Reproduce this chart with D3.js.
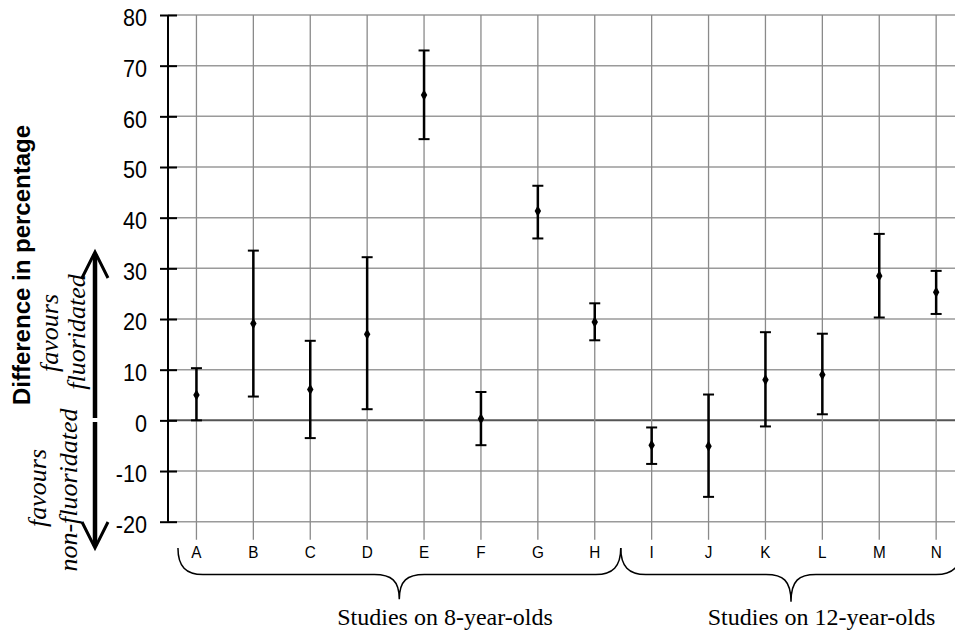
<!DOCTYPE html>
<html><head><meta charset="utf-8">
<script src="https://cdn.jsdelivr.net/npm/d3@7"></script>
<style>body{margin:0;background:#fff}svg{display:block}</style>
</head><body>
<svg id="chart" width="955" height="633"></svg>
<script>
const categories = ["A","B","C","D","E","F","G","H","I","J","K","L","M","N"];
const estimates  = [5.0, 19.1, 6.1, 17.0, 64.2, 0.3, 41.3, 19.4, -4.9, -5.1, 8.0, 9.0, 28.5, 25.3];
const lowerCI    = [0.0, 4.7, -3.5, 2.2, 55.5, -4.9, 35.9, 15.8, -8.6, -15.1, -1.2, 1.2, 20.3, 21.0];
const upperCI    = [10.3, 33.5, 15.7, 32.2, 73.0, 5.6, 46.3, 23.1, -1.4, 5.1, 17.4, 17.1, 36.8, 29.5];
const yTicks     = [-20, -10, 0, 10, 20, 30, 40, 50, 60, 70, 80];
const groups     = [
  {label: "Studies on 8-year-olds", first: "A", last: "H"},
  {label: "Studies on 12-year-olds", first: "I", last: "N"}
];
const yLabel = "Difference in percentage";
const upText = ["favours", "fluoridated"];
const downText = ["favours", "non-fluoridated"];

const svg = d3.select("#chart");
const axisX = 168;
const step = 56.9;
const x = d3.scaleBand().domain(categories).range([axisX, axisX + step * categories.length]).padding(0);
const y = d3.scaleLinear().domain([-20, 80]).range([521.7, 15]);
const cx = c => x(c) + x.bandwidth() / 2;

// horizontal gridlines
svg.append("g").selectAll("line").data(yTicks).join("line")
  .attr("x1", axisX).attr("x2", 955)
  .attr("y1", d => y(d)).attr("y2", d => y(d))
  .attr("stroke", d => d === 0 ? "#555" : "#9a9a9a")
  .attr("stroke-width", d => d === 0 ? 2 : 1.5);

// vertical gridlines
svg.append("g").selectAll("line").data(categories).join("line")
  .attr("x1", cx).attr("x2", cx)
  .attr("y1", y(80)).attr("y2", y(-20) + 18)
  .attr("stroke", "#8a8a8a").attr("stroke-width", 1.3);

// y axis
const sx = 0.9;
const yAxis = d3.axisLeft(y).tickValues(yTicks).tickFormat(d => String(d)).tickSize(0).tickPadding(0);
const ag = svg.append("g").attr("transform", `translate(${axisX},0)`).call(yAxis);
ag.select(".domain").remove();
ag.append("line").attr("y1", y(80)).attr("y2", y(-20)).attr("stroke", "#000").attr("stroke-width", 2);
ag.selectAll(".tick").append("line").attr("x1", -8).attr("x2", 9).attr("stroke", "#000").attr("stroke-width", 2);
ag.selectAll(".tick text")
  .attr("x", -21 / sx).attr("dy", "0.45em")
  .attr("transform", `scale(${sx},1)`)
  .attr("fill", "#000")
  .style("font-family", "'Liberation Sans', Arial, sans-serif")
  .style("font-size", "24px")
  .attr("text-anchor", "end");

// x category labels
svg.append("g").selectAll("text").data(categories).join("text")
  .attr("transform", d => `translate(${cx(d)},558) scale(0.9,1)`)
  .attr("text-anchor", "middle")
  .style("font-family", "'Liberation Sans', Arial, sans-serif")
  .style("font-size", "17px")
  .text(d => d);

// error bars
const data = categories.map((c, i) => ({c, v: estimates[i], lo: lowerCI[i], hi: upperCI[i]}));
const eb = svg.append("g").selectAll("g").data(data).join("g");
eb.append("line").attr("x1", d => cx(d.c)).attr("x2", d => cx(d.c))
  .attr("y1", d => y(d.lo)).attr("y2", d => y(d.hi)).attr("stroke", "#000").attr("stroke-width", 2.5);
eb.append("line").attr("x1", d => cx(d.c) - 5.5).attr("x2", d => cx(d.c) + 5.5)
  .attr("y1", d => y(d.hi)).attr("y2", d => y(d.hi)).attr("stroke", "#000").attr("stroke-width", 2);
eb.append("line").attr("x1", d => cx(d.c) - 5.5).attr("x2", d => cx(d.c) + 5.5)
  .attr("y1", d => y(d.lo)).attr("y2", d => y(d.lo)).attr("stroke", "#000").attr("stroke-width", 2);
eb.append("path")
  .attr("d", d3.symbol(d3.symbolDiamond, 36))
  .attr("transform", d => `translate(${cx(d.c)},${y(d.v)})`)
  .attr("fill", "#000");

// braces
function bracePath(x0, x1, xm, yTop, yMid, yTip) {
  const r = 25;
  return `M${x0},${yTop} C${x0},${yMid - 8} ${x0 + 8},${yMid} ${x0 + r},${yMid}` +
    ` L${xm - r},${yMid} C${xm - 8},${yMid} ${xm},${yMid + 6} ${xm},${yTip}` +
    ` C${xm},${yMid + 6} ${xm + 8},${yMid} ${xm + r},${yMid}` +
    ` L${x1 - r},${yMid} C${x1 - 8},${yMid} ${x1},${yMid - 8} ${x1},${yTop}`;
}
const braceDefs = [
  {x0: cx("A") - 18.5, x1: cx("H") + 26, xm: 399.3, tip: 599.3, label: groups[0].label, tx: 445},
  {x0: cx("H") + 26, x1: 961, xm: 791, tip: 601.7, label: groups[1].label, tx: 821.5}
];
svg.append("g").selectAll("path").data(braceDefs).join("path")
  .attr("d", d => bracePath(d.x0, d.x1, d.xm, 548, 574.5, d.tip))
  .attr("fill", "none").attr("stroke", "#000").attr("stroke-width", 1.5);
svg.append("g").selectAll("text").data(braceDefs).join("text")
  .attr("x", d => d.tx).attr("y", 625)
  .attr("text-anchor", "middle")
  .style("font-family", "'Liberation Serif', 'Times New Roman', serif")
  .style("font-size", "24px")
  .text(d => d.label);

// y label
svg.append("text")
  .attr("transform", "translate(30,265) rotate(-90)")
  .attr("text-anchor", "middle")
  .style("font-family", "'Liberation Sans', Arial, sans-serif")
  .style("font-weight", "bold")
  .style("font-size", "24px")
  .text(yLabel);

// arrows
const ar = svg.append("g").attr("stroke", "#000").attr("fill", "none");
ar.append("line").attr("x1", 95).attr("x2", 95).attr("y1", 418).attr("y2", 254).attr("stroke-width", 4.5);
ar.append("path").attr("d", "M82,278 L95,252 L108,278").attr("stroke-width", 3);
ar.append("line").attr("x1", 95).attr("x2", 95).attr("y1", 422).attr("y2", 546).attr("stroke-width", 4.5);
ar.append("path").attr("d", "M82,522 L95,548 L108,522").attr("stroke-width", 3);

const itStyle = t => t.style("font-family", "'Liberation Serif', 'Times New Roman', serif")
  .style("font-style", "italic").style("font-size", "26px").attr("text-anchor", "middle");
svg.append("text").attr("transform", "translate(58,333) rotate(-90)").call(itStyle).text(upText[0]);
svg.append("text").attr("transform", "translate(85,332) rotate(-90)").call(itStyle).text(upText[1]);
svg.append("text").attr("transform", "translate(46,488) rotate(-90)").call(itStyle).text(downText[0]);
svg.append("text").attr("transform", "translate(77,490) rotate(-90)").call(itStyle).text(downText[1]);
</script>
</body></html>
